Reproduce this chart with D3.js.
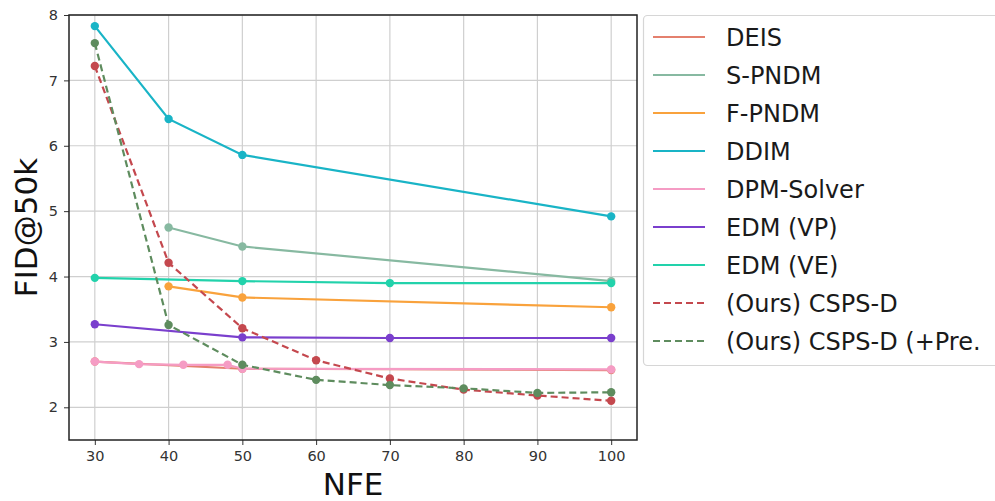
<!DOCTYPE html>
<html>
<head>
<meta charset="utf-8">
<script src="https://cdn.jsdelivr.net/npm/d3@7"></script>
<style>
  body { margin: 0; background: #fff; }
  svg { display: block; font-family: "DejaVu Sans", sans-serif; }
</style>
</head>
<body>
<svg id="chart" width="995" height="501"></svg>
<script>
// series data
const names = ["DEIS", "S-PNDM", "F-PNDM", "DDIM", "DPM-Solver", "EDM (VP)", "EDM (VE)", "(Ours) CSPS-D", "(Ours) CSPS-D (+Pre."];
const colors = ["#e4806e", "#87b9a1", "#f9a23c", "#19b4c6", "#f59cc4", "#7a3fcd", "#22d2ab", "#c4484e", "#5e8c5e"];
const dashed = [false, false, false, false, false, false, false, true, true];

const deisX = [30, 50, 100];
const deisY = [2.70, 2.59, 2.57];
const spndmX = [40, 50, 100];
const spndmY = [4.75, 4.46, 3.93];
const fpndmX = [40, 50, 100];
const fpndmY = [3.85, 3.68, 3.53];
const ddimX = [30, 40, 50, 100];
const ddimY = [7.83, 6.41, 5.86, 4.92];
const dpmX = [30, 36, 42, 48, 50, 100];
const dpmY = [2.70, 2.66, 2.65, 2.65, 2.59, 2.58];
const vpX = [30, 50, 70, 100];
const vpY = [3.27, 3.07, 3.06, 3.06];
const veX = [30, 50, 70, 100];
const veY = [3.98, 3.93, 3.90, 3.90];
const cspsX = [30, 40, 50, 60, 70, 80, 90, 100];
const cspsY = [7.22, 4.21, 3.21, 2.72, 2.44, 2.27, 2.18, 2.10];
const cspsPreX = [30, 40, 50, 60, 70, 80, 90, 100];
const cspsPreY = [7.57, 3.26, 2.65, 2.42, 2.34, 2.29, 2.22, 2.23];

const xTicks = [30, 40, 50, 60, 70, 80, 90, 100];
const yTicks = [2, 3, 4, 5, 6, 7, 8];

const seriesX = [deisX, spndmX, fpndmX, ddimX, dpmX, vpX, veX, cspsX, cspsPreX];
const seriesY = [deisY, spndmY, fpndmY, ddimY, dpmY, vpY, veY, cspsY, cspsPreY];
const series = names.map((n, i) => ({
  name: n, color: colors[i], dashed: dashed[i],
  pts: seriesX[i].map((x, j) => [x, seriesY[i][j]])
}));

const svg = d3.select("#chart");
const pLeft = 69, pRight = 637, pTop = 15, pBottom = 440;

const x = d3.scaleLinear().domain([26.5, 103.5]).range([pLeft, pRight]);
const y = d3.scaleLinear().domain([1.5, 8]).range([pBottom, pTop]);

// grid
svg.append("g").selectAll("line").data(xTicks).join("line")
  .attr("x1", d => x(d)).attr("x2", d => x(d))
  .attr("y1", pTop).attr("y2", pBottom)
  .attr("stroke", "#cfcfcf").attr("stroke-width", 1.2);
svg.append("g").selectAll("line").data(yTicks).join("line")
  .attr("x1", pLeft).attr("x2", pRight)
  .attr("y1", d => y(d)).attr("y2", d => y(d))
  .attr("stroke", "#cfcfcf").attr("stroke-width", 1.2);

// axes
const xAxis = svg.append("g").attr("transform", `translate(0,${pBottom})`)
  .call(d3.axisBottom(x).tickValues(xTicks).tickFormat(d3.format("d")).tickSize(5).tickPadding(6));
const yAxis = svg.append("g").attr("transform", `translate(${pLeft},0)`)
  .call(d3.axisLeft(y).tickValues(yTicks).tickFormat(d3.format("d")).tickSize(5).tickPadding(6));
[xAxis, yAxis].forEach(a => {
  a.select(".domain").remove();
  a.selectAll("line").attr("stroke", "#333");
  a.selectAll("text").attr("fill", "#333").style("font-size", "14.5px")
    .style("font-family", "DejaVu Sans, sans-serif");
});

// lines
const line = d3.line().x(d => x(d[0])).y(d => y(d[1]));
const g = svg.append("g");
series.forEach(s => {
  g.append("path").datum(s.pts)
    .attr("d", line)
    .attr("fill", "none")
    .attr("stroke", s.color)
    .attr("stroke-width", 2.2)
    .attr("stroke-dasharray", s.dashed ? "7,4" : null);
  g.selectAll(null).data(s.pts).join("circle")
    .attr("cx", d => x(d[0])).attr("cy", d => y(d[1]))
    .attr("r", 4.2).attr("fill", s.color);
});

// frame
svg.append("rect")
  .attr("x", pLeft).attr("y", pTop)
  .attr("width", pRight - pLeft).attr("height", pBottom - pTop)
  .attr("fill", "none").attr("stroke", "#222").attr("stroke-width", 1.5);

// axis titles
svg.append("text").attr("x", (pLeft + pRight) / 2).attr("y", 495)
  .attr("text-anchor", "middle").style("font-size", "31px").attr("fill", "#111")
  .text("NFE");
svg.append("text")
  .attr("transform", `translate(37,${(pTop + pBottom) / 2}) rotate(-90)`)
  .attr("text-anchor", "middle").style("font-size", "31px").attr("fill", "#111")
  .text("FID@50k");

// legend
const lg = svg.append("g");
lg.append("rect")
  .attr("x", 643.5).attr("y", 15.5).attr("width", 400).attr("height", 350)
  .attr("rx", 4).attr("fill", "#fff").attr("stroke", "#d6d6d6").attr("stroke-width", 1.2);
series.forEach((s, i) => {
  const ly = 37 + i * 38;
  lg.append("line")
    .attr("x1", 653).attr("x2", 705).attr("y1", ly).attr("y2", ly)
    .attr("stroke", s.color).attr("stroke-width", 2.2)
    .attr("stroke-dasharray", s.dashed ? "7,4" : null);
  lg.append("text").attr("x", 726).attr("y", ly + 8.8)
    .style("font-size", "24px").attr("fill", "#1a1a1a")
    .text(s.name);
});
</script>
</body>
</html>
